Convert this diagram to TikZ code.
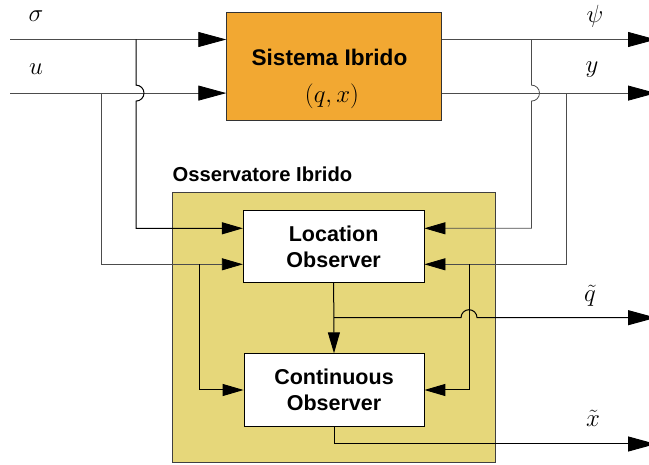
\documentclass[tikz,border=0pt]{standalone}
\usepackage{fontspec}
\setmainfont{Liberation Sans}
\usetikzlibrary{arrows.meta}
\definecolor{sysfill}{RGB}{242,168,50}
\definecolor{obsfill}{RGB}{230,215,122}
\tikzset{
  wire/.style={draw=black!70, line width=0.8pt},
  inwire/.style={draw=black, line width=1pt},
  bigtip/.style={-{Triangle[length=28pt,width=15pt,color=black]}},
  smalltip/.style={-{Triangle[length=21pt,width=12pt,color=black]}},
  blockbox/.style={draw=black, line width=0.8pt, fill=white, align=center,
    font=\fontsize{21.5}{26}\selectfont\bfseries},
  sig/.style={font=\fontsize{25}{30}\selectfont, inner sep=0pt},
}
\begin{document}
\begin{tikzpicture}[x=1pt,y=-1pt]
\useasboundingbox (0,0) rectangle (649,465);

% hybrid plant
\node[draw=black!80, line width=0.8pt, fill=sysfill, minimum width=215pt, minimum height=107.3pt,
      inner sep=0pt] (sys) at (334.2,66.3) {};
\node[font=\fontsize{22.6}{27}\selectfont\bfseries, inner sep=0pt] (systitle) at (329.5,57) {Sistema Ibrido};
\node[font=\fontsize{28}{32}\selectfont, inner sep=0pt] (sysstate) at (332,96.5) {$(q,x)$};

% hybrid observer frame
\node[draw=black!75, line width=0.8pt, fill=obsfill, minimum width=322.7pt, minimum height=270pt,
      inner sep=0pt] (obs) at (333.65,327.3) {};
\node[anchor=west, font=\fontsize{20.2}{24}\selectfont\bfseries, inner sep=0pt] (obstitle) at (172.5,174.5) {Osservatore Ibrido};

% observer blocks
\node[blockbox, minimum width=180.7pt, minimum height=71.3pt, inner sep=0pt] (loc) at (333.65,246.35) {Location\\Observer};
\node[blockbox, minimum width=180pt, minimum height=72.6pt, inner sep=0pt] (cont) at (334,390) {Continuous\\Observer};

% signal points
\coordinate (sigin) at (10,39.5);
\coordinate (uin) at (10,93.1);
\coordinate (sigj) at (136,39.5);
\coordinate (uj) at (101,93.1);
\coordinate (psij) at (531.5,39.5);
\coordinate (yj) at (566.7,93.1);
\coordinate (psiout) at (656,39.5);
\coordinate (yout) at (656,93.1);
\coordinate (qout) at (656,317.7);
\coordinate (xout) at (656,444);
\coordinate (qj) at (334,317.7);
\coordinate (ysplit) at (469,264.3);
\coordinate (usplit) at (199.3,264.3);

% inputs to the plant
\draw[wire, bigtip] (sigin) -- (sys.west |- sigin);
\draw[wire, bigtip] (uin) -- (sys.west |- uin);

% plant outputs
\draw[wire, bigtip] (sys.east |- sigin) -- (psiout);
\draw[wire, bigtip] (sys.east |- uin) -- (yout);

% sigma to location observer, jumping over u
\draw[inwire, smalltip] (sigj) -- (136,85.1) arc[start angle=-90, end angle=90, radius=8]
   -- (136,228.3) -- (loc.west |- 0,228.3);
% u to both observers
\draw[wire, smalltip] (uj) -- (101,264.3) -- (loc.west |- usplit);
\draw[inwire, smalltip] (usplit) -- (199.3,390) -- (cont.west);

% psi to location observer, jumping over y
\draw[wire, smalltip] (psij) -- (531.5,85.1) arc[start angle=-90, end angle=90, radius=8]
   -- (531.5,228.3) -- (loc.east |- 0,228.3);
% y to both observers
\draw[wire, smalltip] (yj) -- (566.7,264.3) -- (loc.east |- ysplit);
\draw[inwire, smalltip] (ysplit) -- (469,390) -- (cont.east);

% location estimate
\draw[inwire, smalltip] (loc.south) -- (cont.north);
\draw[inwire, bigtip] (qj) -- (461,317.7) arc[start angle=180, end angle=360, radius=8] -- (qout);
% continuous estimate
\draw[inwire, bigtip] (cont.south) -- (334,444) -- (xout);

% signal labels
\node[sig] (lsig) at (36,16) {$\sigma$};
\node[sig] (lu) at (36,69) {$u$};
\node[sig] (lpsi) at (595,16) {$\psi$};
\node[sig] (ly) at (592,70) {$y$};
\node[sig] (lq) at (590,296) {$\tilde q$};
\node[sig] (lx) at (593,418) {$\tilde x$};
\end{tikzpicture}
\end{document}
